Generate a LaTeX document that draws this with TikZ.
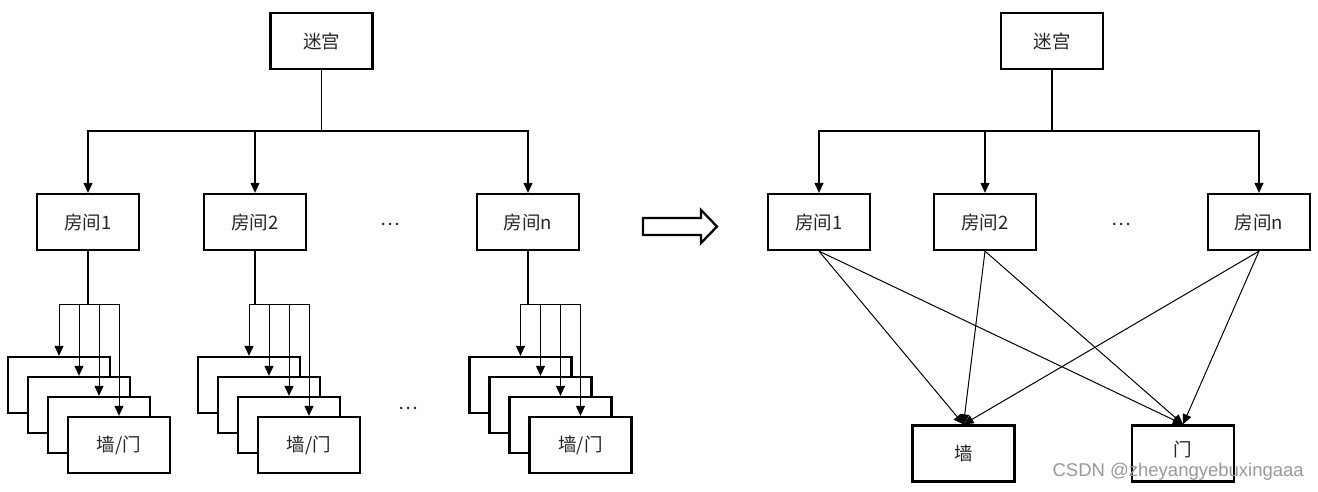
\documentclass[tikz,border=0pt]{standalone}
\usepackage{fontspec}
\newfontfamily\cjk{Noto Sans CJK SC}
\newfontfamily\wmfont{Liberation Sans}
\usetikzlibrary{arrows.meta,calc}
\tikzset{
  box/.style={draw=black, line width=2.3pt, fill=white, minimum width=102pt, minimum height=56pt, inner sep=0pt, font=\cjk\fontsize{18.5}{20}\selectfont, text=black!85},
  conn/.style={draw=black, line width=1.2pt},
  arr/.style={conn, -{Triangle[length=10pt,width=9pt]}},
  thinarr/.style={draw=black, line width=1pt, -{Triangle[length=10pt,width=9pt]}},
  dots/.style={font=\cjk\fontsize{18.5}{20}\selectfont, text=black!85},
}
\begin{document}
\begin{tikzpicture}[x=1pt,y=-1pt]
\useasboundingbox[fill=white] (0,0) rectangle (1318,492);

% ---------------- left hierarchy ----------------
\node[box] (mz1) at (321.5,41) {迷宫};
\node[box] (r1) at (88,222) {房间1};
\node[box] (r2) at (255,222) {房间2};
\node[box] (rn) at (528,222) {房间n};
\node[dots] (d1) at (390,224) {…};
\coordinate (bus1) at (321.5,131);
\draw[conn] (mz1.south) -- (bus1);
\draw[arr] (bus1) -| (r1.north);
\draw[arr] (bus1) -| (r2.north);
\draw[arr] (bus1) -| (rn.north);

% stack 1
\foreach \k in {0,1,2,3} {
  \node[box] (sa\k) at (59+20*\k,385+20*\k) {};
}
\node[box] at (sa3) {墙/门};
\coordinate (ba) at (88,304);
\draw[conn] (r1.south) -- (ba);
\foreach \k in {0,1,2,3} {
  \draw[thinarr] (ba) -| (sa\k.north);
}

% stack 2
\foreach \k in {0,1,2,3} {
  \node[box] (sb\k) at (249+20*\k,385+20*\k) {};
}
\node[box] at (sb3) {墙/门};
\coordinate (bb) at (255,304);
\draw[conn] (r2.south) -- (bb);
\foreach \k in {0,1,2,3} {
  \draw[thinarr] (bb) -| (sb\k.north);
}

% stack 3
\foreach \k in {0,1,2,3} {
  \node[box] (sc\k) at (520.5+20*\k,385+20*\k) {};
}
\node[box] at (sc3) {墙/门};
\coordinate (bc) at (528,304);
\draw[conn] (rn.south) -- (bc);
\foreach \k in {0,1,2,3} {
  \draw[thinarr] (bc) -| (sc\k.north);
}
\node[dots] (d2) at (408,408) {…};

% ---------------- hollow arrow ----------------
\draw[line width=2.3pt, line join=miter, fill=white]
  (643,218) -- (701,218) -- (701,210) -- (717,226.5) -- (701,243) -- (701,235) -- (643,235) -- cycle;

% ---------------- right graph ----------------
\node[box] (mz2) at (1052,41) {迷宫};
\node[box] (q1) at (819,222) {房间1};
\node[box] (q2) at (985,222) {房间2};
\node[box] (qn) at (1259,222) {房间n};
\node[dots] (d3) at (1121,224) {…};
\coordinate (bus2) at (1052,131);
\draw[conn] (mz2.south) -- (bus2);
\draw[arr] (bus2) -| (q1.north);
\draw[arr] (bus2) -| (q2.north);
\draw[arr] (bus2) -| (qn.north);

\node[box] (wall) at (963.5,453.5) {墙};
\node[box, text height=12pt, text depth=6pt] (door) at (1183,453.5) {门};
\foreach \s in {q1,q2,qn} {
  \draw[thinarr] (\s.south) -- (wall.north);
  \draw[thinarr] (\s.south) -- (door.north);
}

% watermark
\node[font=\wmfont\fontsize{18.5}{20}\selectfont, text=black!40, anchor=east, inner sep=0pt] (wm) at (1304,472) {CSDN @zheyangyebuxingaaa};
\end{tikzpicture}
\end{document}
